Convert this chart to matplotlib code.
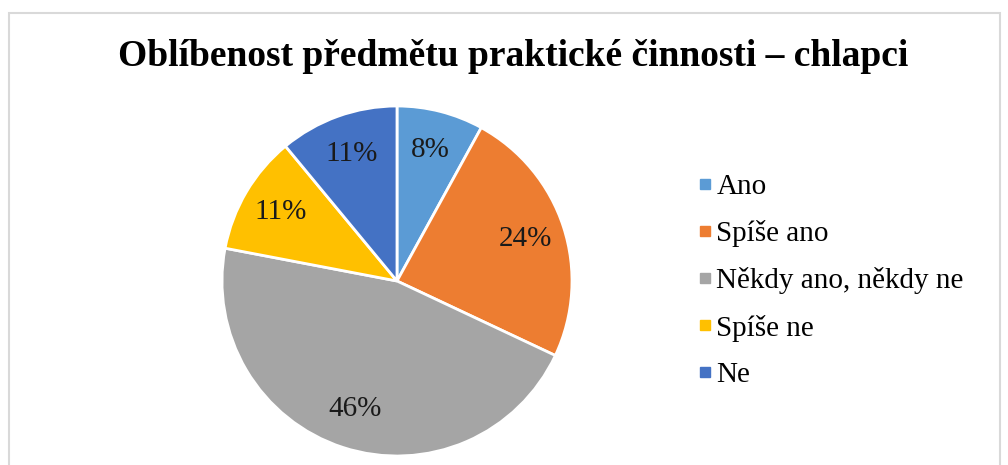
import matplotlib.pyplot as plt
from matplotlib.patches import Rectangle
from matplotlib.lines import Line2D

labels = ['Ano', 'Spíše ano', 'Někdy ano, někdy ne', 'Spíše ne', 'Ne']
values = [8, 24, 46, 11, 11]
colors = ['#5B9BD5', '#ED7D31', '#A5A5A5', '#FFC000', '#4472C4']

plt.rcParams['font.family'] = ['Liberation Serif', 'DejaVu Serif']

fig = plt.figure(figsize=(10.08, 4.65), dpi=100)

# chart border
fig.patches.append(Rectangle((9 / 1008, -0.01), 991 / 1008, 1 - 13 / 465 + 0.01,
                             transform=fig.transFigure, fill=False,
                             edgecolor='#D9D9D9', linewidth=1.5))

fig.text(513 / 1008, 1 - 57 / 465, 'Oblíbenost předmětu praktické činnosti – chlapci',
         ha='center', va='center', fontsize=27, fontweight='bold')

ax = fig.add_axes([222 / 1008, 9 / 465, 350 / 1008, 350 / 465])
wedges, texts, autotexts = ax.pie(values, colors=colors, startangle=90, counterclock=False,
                                  autopct='%d%%', pctdistance=0.77,
                                  wedgeprops=dict(edgecolor='white', linewidth=2),
                                  textprops=dict(fontsize=21, color='#1a1a1a'))
ax.set_xlim(-1, 1)
ax.set_ylim(-1, 1)
ax.set_aspect('equal')

handles = [Line2D([], [], marker='s', linestyle='', markersize=7, markerfacecolor=c,
                  markeredgecolor=c) for c in colors]
fig.legend(handles, labels, loc='center left', bbox_to_anchor=(698 / 1008, 1 - 281 / 465),
           frameon=False, fontsize=21, handletextpad=0.13, labelspacing=0.69,
           handlelength=0.5, borderpad=0, borderaxespad=0)

fig.savefig('out.png', dpi=100)
